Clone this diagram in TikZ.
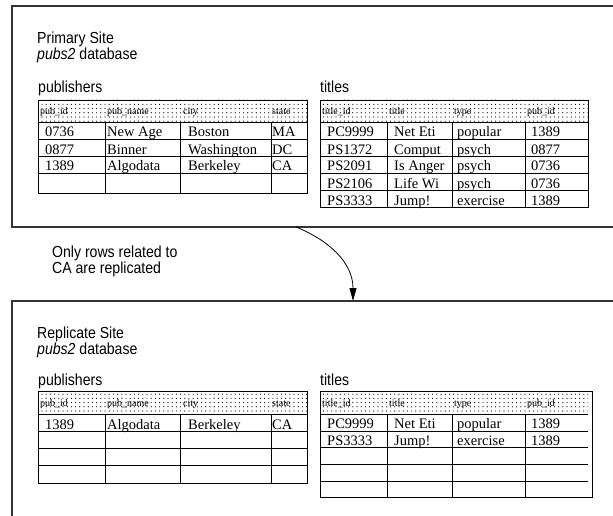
\documentclass[tikz,border=0pt]{standalone}
\usepackage{fontspec}
\setmainfont{Liberation Sans}[FakeStretch=0.88]
\newfontfamily\cellfont{Liberation Serif}
\usepackage{tikz}
\usetikzlibrary{patterns.meta}
\usetikzlibrary{arrows.meta}
\tikzset{
  site/.style={line width=1.3pt, draw=black!80},
  grid/.style={line width=0.9pt},
  hdrfill/.style={pattern={Dots[distance=4.2pt,radius=0.6pt]}, pattern color=black},
  lbl/.style={anchor=base west, inner sep=0pt, font=\fontsize{16}{16}\selectfont},
  cell/.style={anchor=base west, inner sep=0pt, font=\cellfont\fontsize{14.5}{14.5}\selectfont},
  colhead/.style={anchor=base west, inner sep=0pt, font=\cellfont\fontsize{10}{10}\selectfont},
  flow/.style={line width=0.8pt, -{Triangle[length=13pt,width=7pt]}},
}

\begin{document}
\begin{tikzpicture}[x=1pt,y=-1pt]
    \useasboundingbox (0,0) rectangle (613,516);
    \clip (0,0) rectangle (613,516);

    % primary site
    \draw[site] (620,6) -- (12,6) -- (12,227) -- (620,227);
    \node[lbl] (prim) at (37,43.5) {Primary Site};
    \node[lbl] (primdb) at (37,59.5) {\textit{pubs2} database};
    \node[lbl] (ppubs) at (38,93) {publishers};
    \node[lbl] (ptitles) at (320,93) {titles};

    % publishers, primary
    \fill[hdrfill] (38,100) rectangle (307,122);
    \draw[grid] (38,100) rectangle (307,193);
    \foreach \y in {122,139,156,173} \draw[grid] (38,\y) -- (307,\y);
    \foreach \x in {105,180,271} \draw[grid] (\x,122) -- (\x,193);
    \foreach \txt/\x [count=\i] in {pub\_id/40, pub\_name/107, city/183, state/272}
        \node[colhead] (pph\i) at (\x,115) {\txt};
    \foreach \id/\nm/\ct/\st [count=\r] in {0736/New Age/Boston/MA, 0877/Binner/Washington/DC, 1389/Algodata/Berkeley/CA} {
        \pgfmathsetmacro\yb{120+17*\r}
        \node[cell] (pp\r-a) at (45,\yb) {\id};
        \node[cell] (pp\r-b) at (107,\yb) {\nm};
        \node[cell] (pp\r-c) at (188,\yb) {\ct};
        \node[cell] (pp\r-d) at (272,\yb) {\st};
    }

    % titles, primary
    \fill[hdrfill] (320,100) rectangle (588,122);
    \draw[grid] (320,100) rectangle (588,207);
    \foreach \y in {122,139,156,173,190} \draw[grid] (320,\y) -- (588,\y);
    \foreach \x in {387,452,525} \draw[grid] (\x,122) -- (\x,207);
    \foreach \txt/\x [count=\i] in {title\_id/322, title/389, type/454, pub\_id/527}
        \node[colhead] (pth\i) at (\x,115) {\txt};
    \foreach \id/\nm/\ty/\pid [count=\r] in {PC9999/Net Eti/popular/1389, PS1372/Comput/psych/0877, PS2091/Is Anger/psych/0736, PS2106/Life Wi/psych/0736, PS3333/Jump!/exercise/1389} {
        \pgfmathsetmacro\yb{120+17*\r}
        \node[cell] (pt\r-a) at (327,\yb) {\id};
        \node[cell] (pt\r-b) at (394,\yb) {\nm};
        \node[cell] (pt\r-c) at (457,\yb) {\ty};
        \node[cell] (pt\r-d) at (531,\yb) {\pid};
    }

    % replication arrow
    \coordinate (from) at (296,227);
    \coordinate (to) at (353,301);
    \draw[flow] (from) .. controls (328,240) and (353,262) .. (to);
    \node[lbl] (note1) at (52,257) {Only rows related to};
    \node[lbl] (note2) at (52,273) {CA are replicated};

    % replicate site
    \draw[site] (620,301) -- (12,301) -- (12,520);
    \node[lbl] (repl) at (37,338.5) {Replicate Site};
    \node[lbl] (repldb) at (37,354.5) {\textit{pubs2} database};
    \node[lbl] (rpubs) at (38,385) {publishers};
    \node[lbl] (rtitles) at (320,385) {titles};

    % publishers, replicate
    \fill[hdrfill] (38,391) rectangle (307,414);
    \draw[grid] (38,391) rectangle (307,483);
    \foreach \y in {414,431,448,465} \draw[grid] (38,\y) -- (307,\y);
    \foreach \x in {105,180,271} \draw[grid] (\x,414) -- (\x,483);
    \foreach \txt/\x [count=\i] in {pub\_id/40, pub\_name/107, city/183, state/272}
        \node[colhead] (rph\i) at (\x,406) {\txt};
    \node[cell] (rp1-a) at (45,429) {1389};
    \node[cell] (rp1-b) at (107,429) {Algodata};
    \node[cell] (rp1-c) at (188,429) {Berkeley};
    \node[cell] (rp1-d) at (272,429) {CA};

    % titles, replicate
    \fill[hdrfill] (320,391) rectangle (588,414);
    \draw[grid] (320,391) rectangle (592,497);
    \foreach \y in {414,431,447,464,481} \draw[grid] (320,\y) -- (588,\y);
    \foreach \x in {387,452,525} \draw[grid] (\x,414) -- (\x,497);
    \foreach \txt/\x [count=\i] in {title\_id/322, title/389, type/454, pub\_id/527}
        \node[colhead] (rth\i) at (\x,406) {\txt};
    \foreach \id/\nm/\ty/\pid [count=\r] in {PC9999/Net Eti/popular/1389, PS3333/Jump!/exercise/1389} {
        \pgfmathsetmacro\yb{412+16.5*\r}
        \node[cell] (rt\r-a) at (327,\yb) {\id};
        \node[cell] (rt\r-b) at (394,\yb) {\nm};
        \node[cell] (rt\r-c) at (457,\yb) {\ty};
        \node[cell] (rt\r-d) at (531,\yb) {\pid};
    }
\end{tikzpicture}
\end{document}
